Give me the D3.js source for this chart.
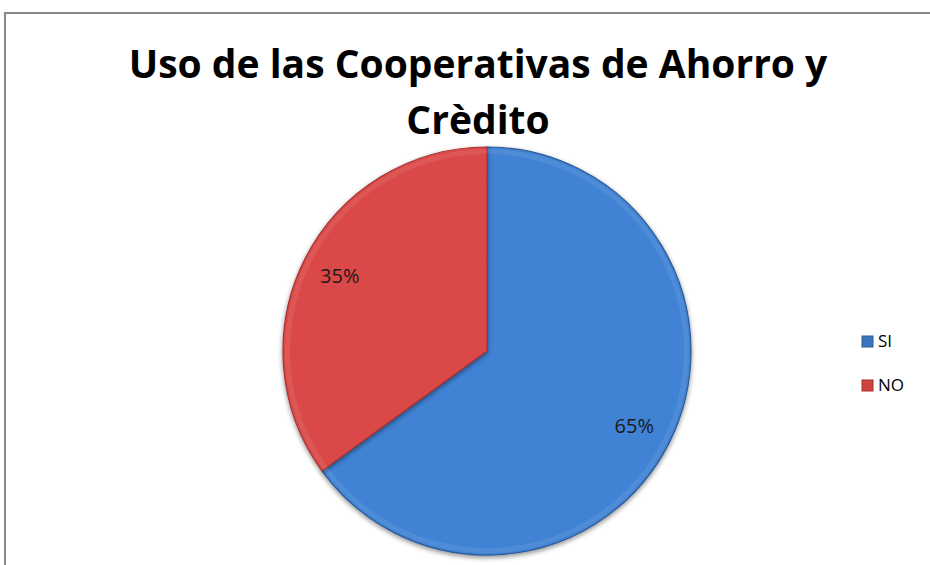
<!DOCTYPE html>
<html><head><meta charset="utf-8">
<script src="https://cdn.jsdelivr.net/npm/d3@7"></script>
<style>body{margin:0;background:#fff}svg{display:block}</style>
</head><body>
<script>
const categories = ["SI", "NO"];
const values = [65, 35];
const labels = ["65%", "35%"];
const titleLines = ["Uso de las Cooperativas de Ahorro y", "Crèdito"];

const W = 930, H = 565;
const cx = 487, cy = 351, r = 204;
const svg = d3.select("body").append("svg").attr("width", W).attr("height", H);
const defs = svg.append("defs");

const colors = {SI: ["#4083d5", "#3b74be", "#3665a6", "#2d5a96"], NO: ["#da4946", "#cf4340", "#bd3b39", "#a63331"]};
categories.forEach(c => {
  const g = defs.append("linearGradient").attr("id", "g" + c)
    .attr("gradientUnits", "userSpaceOnUse").attr("x1", cx - 60).attr("y1", cy - r).attr("x2", cx + 40).attr("y2", cy + r);
  g.append("stop").attr("offset", "0%").attr("stop-color", colors[c][0]);
  g.append("stop").attr("offset", "50%").attr("stop-color", colors[c][1]);
  g.append("stop").attr("offset", "100%").attr("stop-color", colors[c][2]);
});
const f = defs.append("filter").attr("id", "sh").attr("x", "-10%").attr("y", "-10%").attr("width", "120%").attr("height", "120%");
f.append("feGaussianBlur").attr("in", "SourceAlpha").attr("stdDeviation", 2.5);
f.append("feOffset").attr("dx", 0).attr("dy", 2).attr("result", "b");
f.append("feComponentTransfer").append("feFuncA").attr("type", "linear").attr("slope", 0.45);
const m = f.append("feMerge"); m.append("feMergeNode"); m.append("feMergeNode").attr("in", "SourceGraphic");

// frame
svg.append("rect").attr("x", 5).attr("y", 13).attr("width", W + 10).attr("height", H + 10)
  .attr("fill", "#fff").attr("stroke", "#878787").attr("stroke-width", 2);

// title
const title = svg.append("text").attr("text-anchor", "middle")
  .attr("font-family", "'Open Sans', sans-serif").attr("font-weight", "bold")
  .attr("font-size", 39).attr("fill", "#000");
titleLines.forEach((t, i) => title.append("tspan").attr("x", 478).attr("y", 78 + i * 56).text(t));

// pie
const pie = d3.pie().sort(null).value(d => d.v);
const arcs = pie(categories.map((c, i) => ({c, v: values[i], l: labels[i]})));
const arc = d3.arc().innerRadius(0).outerRadius(r);
const g = svg.append("g").attr("transform", `translate(${cx},${cy})`);
g.selectAll("path.s").data(arcs).join("path").attr("class", "s")
  .attr("d", arc).attr("fill", d => `url(#g${d.data.c})`)
  .attr("stroke", d => colors[d.data.c][3]).attr("stroke-width", 1.2)
  .attr("filter", "url(#sh)");
const rim = d3.arc().innerRadius(r - 7).outerRadius(r - 2);
g.selectAll("path.rim").data(arcs).join("path").attr("class", "rim")
  .attr("d", rim).attr("fill", "#fff").attr("opacity", 0.08);
const la = d3.arc().innerRadius(r * 0.81).outerRadius(r * 0.81);
g.selectAll("text").data(arcs).join("text")
  .attr("transform", d => {
    const [x, y] = la.centroid(d);
    return `translate(${x},${y})`;
  })
  .attr("text-anchor", "middle").attr("dy", "0.35em")
  .attr("font-family", "'Open Sans', sans-serif").attr("font-size", 20).attr("fill", "#1a1a1a")
  .text(d => d.data.l);

// legend
const lg = svg.append("g");
categories.forEach((c, i) => {
  const y = 341 + i * 44;
  lg.append("rect").attr("x", 862).attr("y", y - 5).attr("width", 11).attr("height", 11)
    .attr("fill", colors[c][1]).attr("stroke", colors[c][3]);
  lg.append("text").attr("x", 878).attr("y", y + 6).attr("font-family", "'Open Sans', sans-serif")
    .attr("font-size", 17).attr("fill", "#000").text(c);
});
</script>
</body></html>
